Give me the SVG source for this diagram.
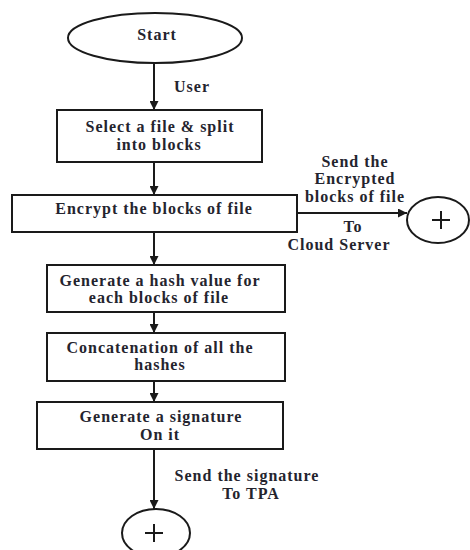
<svg xmlns="http://www.w3.org/2000/svg" width="470" height="550" viewBox="0 0 470 550">
<style>
  .shape{fill:#fff;stroke:#1a1a1a;stroke-width:2}
  .t{font-family:"Liberation Serif","Times New Roman",serif;font-weight:bold;font-size:16px;letter-spacing:1px;fill:#24242e;text-anchor:middle}
  .c{stroke:#1a1a1a;stroke-width:2;fill:none}
  .plus{stroke:#1a1a1a;stroke-width:2}
</style>
<defs>
  <marker id="ah" markerWidth="9" markerHeight="9" refX="9" refY="4.5" orient="auto" markerUnits="userSpaceOnUse">
    <path d="M0,0 L9,4.5 L0,9 z" fill="#1a1a1a"/>
  </marker>
</defs>
<rect width="470" height="550" fill="#fff"/>
<g id="connectors">
  <line class="c" x1="154" y1="63" x2="154" y2="110" marker-end="url(#ah)"/>
  <line class="c" x1="154" y1="162" x2="154" y2="195" marker-end="url(#ah)"/>
  <line class="c" x1="154" y1="232" x2="154" y2="265" marker-end="url(#ah)"/>
  <line class="c" x1="154" y1="312" x2="154" y2="333" marker-end="url(#ah)"/>
  <line class="c" x1="154" y1="381" x2="154" y2="402" marker-end="url(#ah)"/>
  <line class="c" x1="154" y1="449" x2="154" y2="509" marker-end="url(#ah)"/>
  <line class="c" x1="297" y1="213" x2="407" y2="213" marker-end="url(#ah)"/>
  <text class="t" x="192" y="92">User</text>
  <text class="t" x="355" y="167">Send the</text>
  <text class="t" x="355" y="184">Encrypted</text>
  <text class="t" x="355" y="202">blocks of file</text>
  <text class="t" x="353" y="232">To</text>
  <text class="t" x="339" y="250">Cloud Server</text>
  <text class="t" x="247" y="481">Send the signature</text>
  <text class="t" x="251" y="499">To TPA</text>
</g>
<g id="start">
  <ellipse class="shape" cx="155" cy="38" rx="87" ry="25"/>
  <text class="t" x="157" y="40">Start</text>
</g>
<g id="select">
  <rect class="shape" x="57" y="110" width="205" height="52"/>
  <text class="t" x="160" y="132">Select a file &amp; split</text>
  <text class="t" x="159" y="150">into blocks</text>
</g>
<g id="encrypt">
  <rect class="shape" x="12" y="195" width="285" height="37"/>
  <text class="t" x="154" y="214">Encrypt the blocks of file</text>
</g>
<g id="hash">
  <rect class="shape" x="47" y="265" width="238" height="47"/>
  <text class="t" x="160" y="286">Generate a hash value for</text>
  <text class="t" x="159" y="303">each blocks of file</text>
</g>
<g id="concat">
  <rect class="shape" x="47" y="333" width="238" height="48"/>
  <text class="t" x="160" y="353">Concatenation of all the</text>
  <text class="t" x="160" y="370">hashes</text>
</g>
<g id="signature">
  <rect class="shape" x="37" y="402" width="246" height="47"/>
  <text class="t" x="161" y="422">Generate a signature</text>
  <text class="t" x="160" y="440">On it</text>
</g>
<g id="cloud-connector">
  <ellipse class="shape" cx="438" cy="220" rx="31" ry="23"/>
  <line class="plus" x1="432" y1="220" x2="450" y2="220"/>
  <line class="plus" x1="441" y1="211" x2="441" y2="229"/>
</g>
<g id="tpa-connector">
  <ellipse class="shape" cx="156" cy="533" rx="34" ry="24"/>
  <line class="plus" x1="145" y1="533" x2="163" y2="533"/>
  <line class="plus" x1="154" y1="524" x2="154" y2="542"/>
</g>
</svg>
